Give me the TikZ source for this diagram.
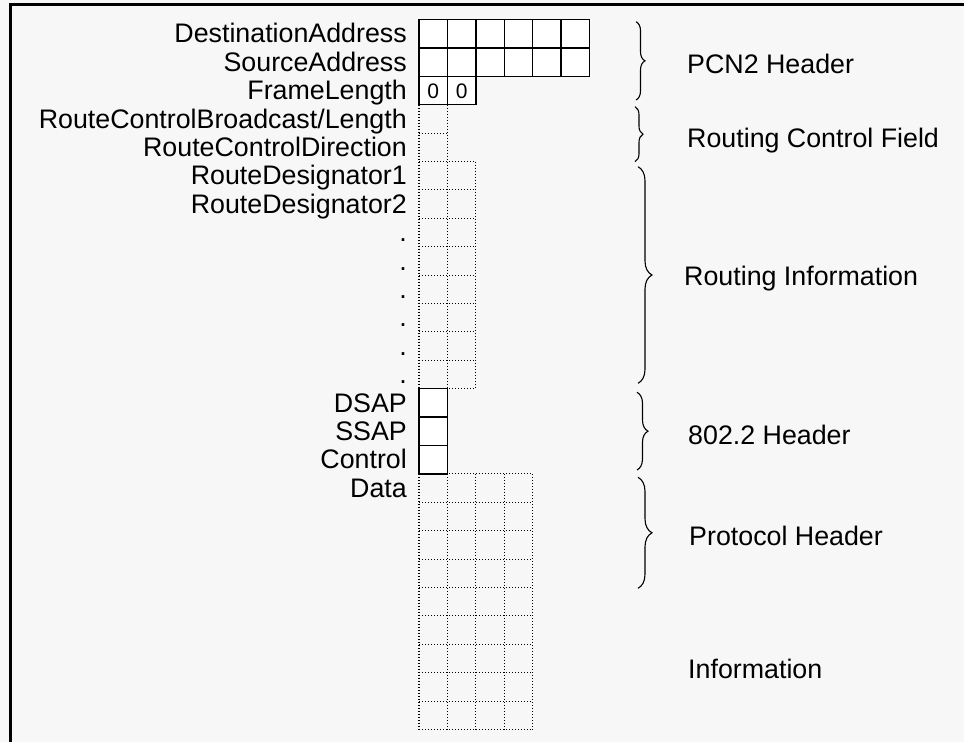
\documentclass[tikz,border=0pt]{standalone}
\usepackage{fontspec}
\setmainfont{Liberation Sans}
\usetikzlibrary{decorations.pathreplacing}
\definecolor{bgc}{HTML}{F7F7F7}
\begin{document}
\begin{tikzpicture}[x=1pt,y=-1pt,
  font=\fontsize{26.8}{30}\selectfont,
  solidcell/.style={draw=black, line width=1.4pt, fill=white},
  dotline/.style={draw=black, line width=1.1pt, dash pattern=on 1pt off 2pt},
  lbl/.style={anchor=base east, inner sep=0pt},
  rlbl/.style={anchor=base west, inner sep=0pt},
  brc/.style={decorate, decoration={brace, amplitude=#1}, line width=1.1pt},
  brc/.default=10,
  zero/.style={inner sep=0pt, font=\fontsize{21}{24}\selectfont}]
\useasboundingbox (0,0) rectangle (964,742);
\fill[bgc] (0,0) rectangle (964,742);
\draw[line width=3pt] (10.5,742) -- (10.5,4.5) -- (964,4.5);

% dotted grids
% routing control field: 1 column, rows 3-4
\foreach \k in {0,1} \draw[dotline] ({419+28.4*\k},104.7) -- ({419+28.4*\k},161.5);
\draw[dotline] (419,133.1) -- (447.4,133.1);
% route designators: 2 columns, rows 5-12
\foreach \k in {0,1,2} \draw[dotline] ({419+28.4*\k},161.5) -- ({419+28.4*\k},388.7);
\foreach \j in {0,...,8} \draw[dotline] (419,{161.5+28.4*\j}) -- (475.8,{161.5+28.4*\j});
% data: 4 columns, rows 16-24
\foreach \k in {0,...,4} \draw[dotline] ({419+28.4*\k},473.9) -- ({419+28.4*\k},729.5);
\foreach \j in {0,...,9} \draw[dotline] (419,{473.9+28.4*\j}) -- (532.6,{473.9+28.4*\j});

% solid cells
\foreach \r in {0,1} \foreach \c in {0,...,5}
  \draw[solidcell] ({419+28.4*\c},{19.5+28.4*\r}) rectangle ++(28.4,28.4);
\foreach \c in {0,1}
  \draw[solidcell] ({419+28.4*\c},76.3) rectangle ++(28.4,28.4);
\foreach \r in {13,14,15}
  \draw[solidcell] (419,{19.5+28.4*\r}) rectangle ++(28.4,28.4);
\node[zero] (z1) at (433.2,91.5) {0};
\node[zero] (z2) at (461.6,91.5) {0};

% left labels
\node[lbl] (l0) at (407,42.9) {DestinationAddress};
\node[lbl] (l1) at (407,71.3) {SourceAddress};
\node[lbl] (l2) at (407,99.7) {FrameLength};
\node[lbl] (l3) at (407,128.1) {RouteControlBroadcast/Length};
\node[lbl] (l4) at (407,156.5) {RouteControlDirection};
\node[lbl] (l5) at (407,184.9) {RouteDesignator1};
\node[lbl] (l6) at (407,213.3) {RouteDesignator2};
\node[lbl] (d1) at (407,241.7) {.};
\node[lbl] (d2) at (407,270.1) {.};
\node[lbl] (d3) at (407,298.5) {.};
\node[lbl] (d4) at (407,326.9) {.};
\node[lbl] (d5) at (407,355.3) {.};
\node[lbl] (d6) at (407,383.7) {.};
\node[lbl] (l13) at (407,412.1) {DSAP};
\node[lbl] (l14) at (407,440.5) {SSAP};
\node[lbl] (l15) at (407,468.9) {Control};
\node[lbl] (l16) at (407,497.3) {Data};

% braces
\draw[brc=9] (636,21.7) -- (636,100);
\draw[brc=8] (635,106.7) -- (635,161.7);
\draw[brc=14] (638,166.7) -- (638,383.3);
\draw[brc=11] (637,392.3) -- (637,470);
\draw[brc=14] (638,477.3) -- (638,588.3);

% right labels
\node[rlbl] (g1) at (687,73) {PCN2 Header};
\node[rlbl] (g2) at (687,147) {Routing Control Field};
\node[rlbl] (g3) at (684,285) {Routing Information};
\node[rlbl] (g4) at (688,444) {802.2 Header};
\node[rlbl] (g5) at (689,545) {Protocol Header};
\node[rlbl] (g6) at (688,678) {Information};
\end{tikzpicture}
\end{document}
